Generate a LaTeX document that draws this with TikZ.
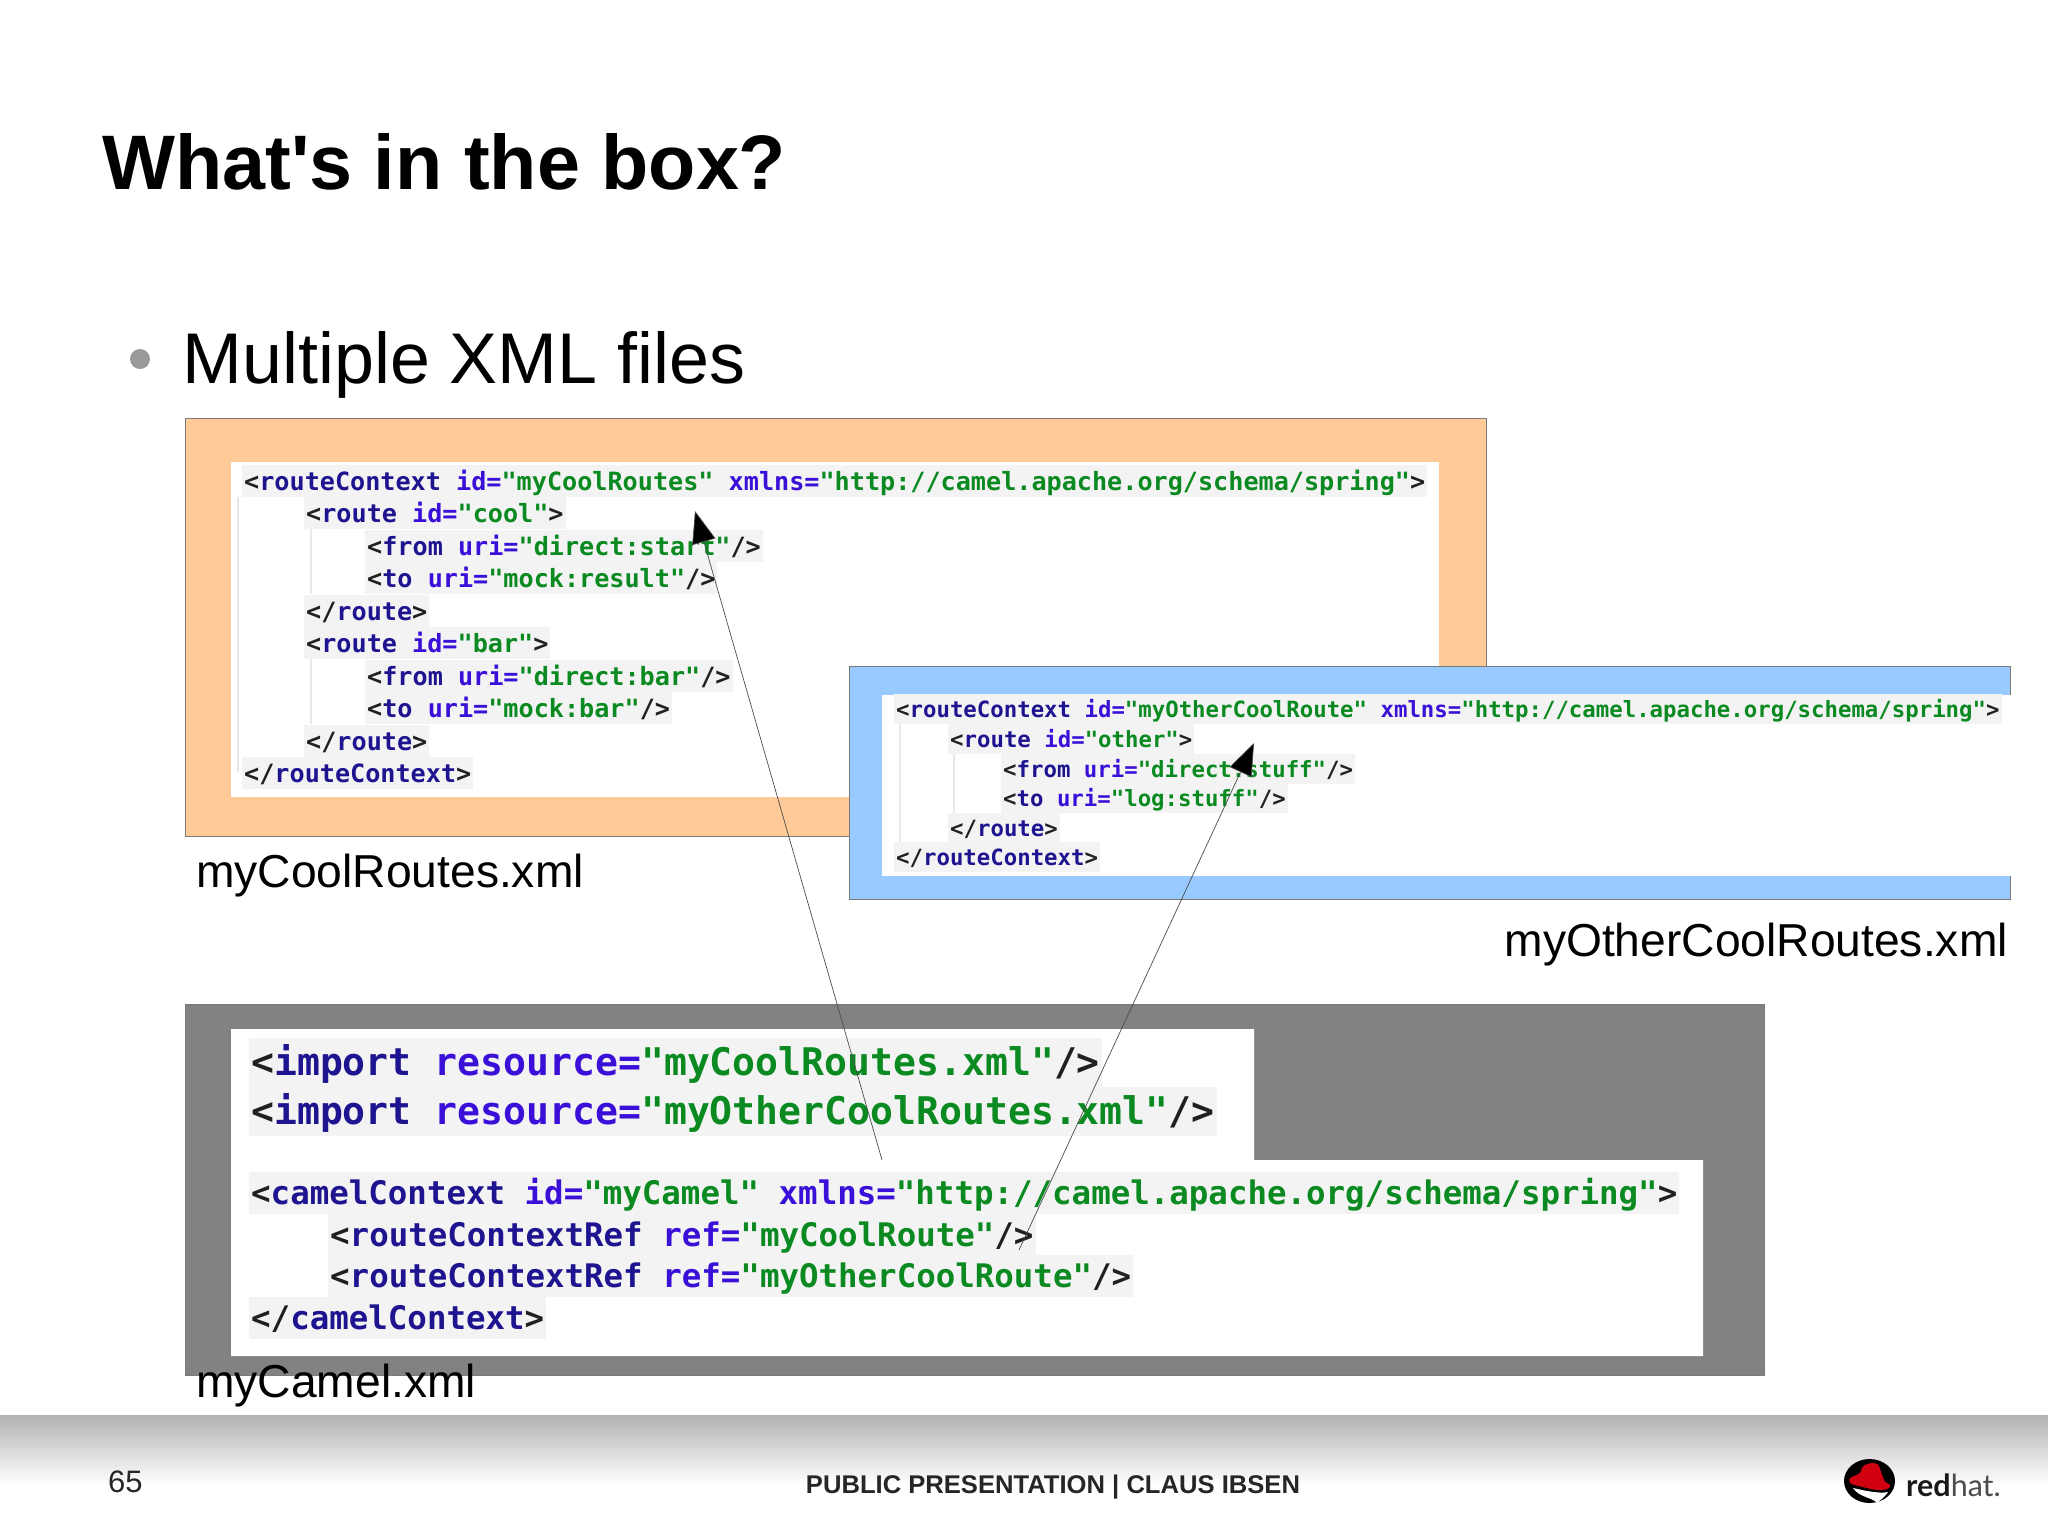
\documentclass[tikz,border=0pt]{standalone}
\usepackage{fontspec}
\usetikzlibrary{arrows.meta}
\setmainfont{Liberation Sans}
\newfontfamily\titlefont{Liberation Sans}
\newfontfamily\codefont[Ligatures=NoCommon]{DejaVu Sans Mono}
\newfontfamily\logofont{Lato}
\definecolor{orangebox}{HTML}{FFC998}
\definecolor{bluebox}{HTML}{99CAFF}
\definecolor{graybox}{HTML}{838183}
\definecolor{boxline}{HTML}{7A7A7A}
\definecolor{codebg}{HTML}{F3F3F3}
\definecolor{codetag}{HTML}{1E1490}
\definecolor{codeatt}{HTML}{3A10D8}
\definecolor{codeval}{HTML}{0A8A20}
\definecolor{codepun}{HTML}{202020}
\definecolor{guide}{HTML}{E8E8E8}
\definecolor{bulletgray}{HTML}{999999}
\definecolor{hatred}{HTML}{D00010}
\newcommand\xtag[1]{\textcolor{codepun}{<}\textcolor{codetag}{#1}}
\newcommand\xend[1]{\textcolor{codepun}{</}\textcolor{codetag}{#1}\textcolor{codepun}{>}}
\newcommand\xatt[1]{\textcolor{codeatt}{#1=}}
\newcommand\xval[1]{\textcolor{codeval}{"#1"}}
\newcommand\xclose{\textcolor{codepun}{/>}}
\newcommand\xgt{\textcolor{codepun}{>}}
\tikzset{
  x=1pt,y=-1pt,
  outerbox/.style={draw=boxline,line width=1pt},
  codeln/.style 2 args={anchor=west,inner xsep=2pt,inner ysep=0pt,fill=codebg,
    font=\fontsize{#1}{#1}\selectfont\codefont\bfseries,
    text height=0.78*#2 pt,text depth=0.22*#2 pt},
  orangeln/.style={codeln={25.15}{32.5}},
  blueln/.style={codeln={22.35}{29.6}},
  importln/.style={codeln={38.1}{49}},
  camelln/.style={codeln={32.45}{41.7}},
  lbl/.style={font=\fontsize{46.2}{46.2}\selectfont,inner sep=0pt,text=black},
  pointer/.style={line width=0.7pt,draw=black!70,-{Triangle[length=32pt,width=24pt,fill=black]}},
  guideline/.style={draw=guide,line width=1.2pt},
}
\begin{document}
\begin{tikzpicture}
\useasboundingbox (0,0) rectangle (2048,1535);
\fill[white] (0,0) rectangle (2048,1535);

\node[anchor=base west,inner sep=0pt,font=\fontsize{77.3}{77.3}\selectfont\titlefont\bfseries] (title) at (102,189) {What's in the box?};
\fill[bulletgray] (140,359) circle (10);
\node[anchor=base west,inner sep=0pt,font=\fontsize{71.8}{71.8}\selectfont] (bullet) at (182.5,383) {Multiple XML files};

% orange box
\filldraw[fill=orangebox,outerbox] (185,418) rectangle (1486,836);
\fill[white] (231,462) rectangle (1439,797);
\draw[guideline] (238,497) -- (238,772);
\draw[guideline] (311,529) -- (311,594);
\draw[guideline] (311,659) -- (311,724);
\node[orangeln] (o1) at (242,481) {\xtag{routeContext} \xatt{id}\xval{myCoolRoutes} \xatt{xmlns}\xval{http://camel.apache.org/schema/spring}\xgt};
\node[orangeln] (o2) at (304,513) {\xtag{route} \xatt{id}\xval{cool}\xgt};
\node[orangeln] (o3) at (365,546) {\xtag{from} \xatt{uri}\xval{direct:start}\xclose};
\node[orangeln] (o4) at (365,578) {\xtag{to} \xatt{uri}\xval{mock:result}\xclose};
\node[orangeln] (o5) at (304,611) {\xend{route}};
\node[orangeln] (o6) at (304,643) {\xtag{route} \xatt{id}\xval{bar}\xgt};
\node[orangeln] (o7) at (365,676) {\xtag{from} \xatt{uri}\xval{direct:bar}\xclose};
\node[orangeln] (o8) at (365,708) {\xtag{to} \xatt{uri}\xval{mock:bar}\xclose};
\node[orangeln] (o9) at (304,741) {\xend{route}};
\node[orangeln] (o10) at (242,773) {\xend{routeContext}};

% blue box
\filldraw[fill=bluebox,outerbox] (849,666) rectangle (2010,899);
\fill[white] (882,695) rectangle (2010.5,876);
\draw[guideline] (900,724) -- (900,842);
\draw[guideline] (954,754) -- (954,813);
\node[blueln] (b1) at (894,709) {\xtag{routeContext} \xatt{id}\xval{myOtherCoolRoute} \xatt{xmlns}\xval{http://camel.apache.org/schema/spring}\xgt};
\node[blueln] (b2) at (948,739) {\xtag{route} \xatt{id}\xval{other}\xgt};
\node[blueln] (b3) at (1001,769) {\xtag{from} \xatt{uri}\xval{direct:stuff}\xclose};
\node[blueln] (b4) at (1001,798) {\xtag{to} \xatt{uri}\xval{log:stuff}\xclose};
\node[blueln] (b5) at (948,828) {\xend{route}};
\node[blueln] (b6) at (894,857) {\xend{routeContext}};

% gray box
\filldraw[fill=graybox,outerbox] (185,1004) rectangle (1764,1375);
\fill[white] (231,1029) -- (1254,1029) -- (1254,1160) -- (1703,1160) -- (1703,1356) -- (231,1356) -- cycle;
\node[importln] (i1) at (249,1062) {\xtag{import} \xatt{resource}\xval{myCoolRoutes.xml}\xclose};
\node[importln] (i2) at (249,1111) {\xtag{import} \xatt{resource}\xval{myOtherCoolRoutes.xml}\xclose};
\node[camelln] (c1) at (249,1193) {\xtag{camelContext} \xatt{id}\xval{myCamel} \xatt{xmlns}\xval{http://camel.apache.org/schema/spring}\xgt};
\node[camelln] (c2) at (328,1235) {\xtag{routeContextRef} \xatt{ref}\xval{myCoolRoute}\xclose};
\node[camelln] (c3) at (328,1276) {\xtag{routeContextRef} \xatt{ref}\xval{myOtherCoolRoute}\xclose};
\node[camelln] (c4) at (249,1318) {\xend{camelContext}};

% file labels
\node[lbl,anchor=base west] (l1) at (196,887) {myCoolRoutes.xml};
\node[lbl,anchor=base east] (l2) at (2008,956) {myOtherCoolRoutes.xml};
\node[lbl,anchor=base west] (l3) at (196,1397) {myCamel.xml};

% footer band
\shade[top color=black!30,bottom color=white] (0,1415) rectangle (2048,1485);
\node[anchor=base west,inner sep=0pt,font=\fontsize{31}{31}\selectfont,text=black!85] (page) at (108,1492) {65};
\node[anchor=base,inner sep=0pt,font=\fontsize{25.6}{25.6}\selectfont\bfseries,text=black!85] (footer) at (1053,1493) {PUBLIC PRESENTATION | CLAUS IBSEN};

% logo
\fill[black] (1869.5,1481) ellipse (25.5 and 22);
\fill[hatred] (1849,1480) .. controls (1853,1473) and (1860,1478) .. (1862,1468)
  .. controls (1864,1463) and (1877,1461) .. (1879,1466)
  .. controls (1881,1472) and (1883,1478) .. (1885,1482)
  .. controls (1888,1483) and (1891,1485) .. (1890,1487)
  .. controls (1885,1492) and (1873,1490) .. (1863,1487)
  .. controls (1856,1485) and (1849,1485) .. (1849,1480) -- cycle;
\fill[white] (1853,1488) .. controls (1862,1490) and (1878,1494) .. (1888,1492)
  .. controls (1884,1498) and (1880,1500) .. (1877,1503)
  .. controls (1872,1497) and (1860,1498) .. (1853,1488) -- cycle;
\node[anchor=base west,inner sep=0pt,font=\fontsize{30.5}{30.5}\selectfont\logofont,text=black!90] (logo) at (1906,1496) {\textbf{red}\textcolor{black!70}{hat.}};

% connectors
\coordinate (p1s) at (882,1160);
\coordinate (p1e) at (695,511);
\coordinate (p2s) at (1019,1250);
\coordinate (p2e) at (1254,743);
\draw[pointer] (p1s) -- (p1e);
\draw[pointer] (p2s) -- (p2e);
\end{tikzpicture}
\end{document}
